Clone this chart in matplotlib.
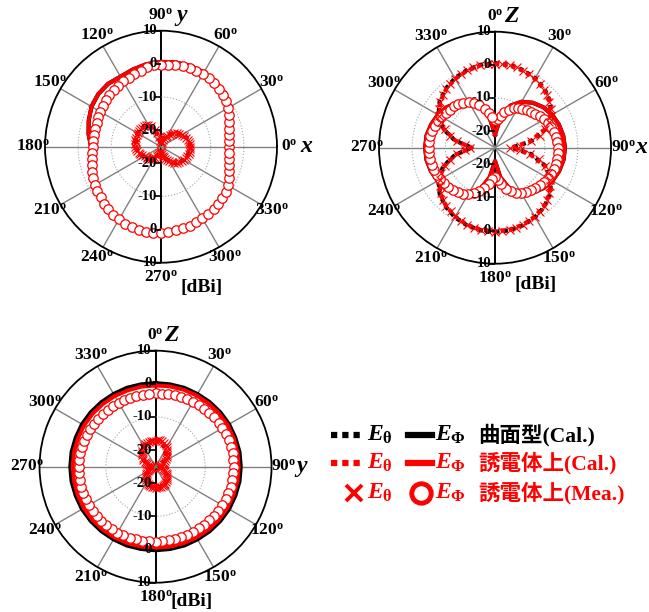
import numpy as np
import matplotlib.pyplot as plt
from matplotlib.markers import TICKLEFT

plt.rcParams["font.family"] = ["Liberation Serif", "Noto Sans CJK JP"]
plt.rcParams["font.weight"] = "bold"
plt.rcParams["mathtext.fontset"] = "custom"
plt.rcParams["mathtext.rm"] = "Liberation Serif:bold"
plt.rcParams["mathtext.it"] = "Liberation Serif:italic:bold"
plt.rcParams["mathtext.bf"] = "Liberation Serif:bold"

RED = "#ff0000"
R_MIN, R_MAX = -25, 10
R_LAB = 13.7

# sample angles [deg]: measurement every 5 deg, calculation every 10 deg
ang_mea = np.arange(0, 360, 5)
ang_cal = np.arange(0, 360, 10)

# ---------------- xy-plane (angle from x axis) [dBi] ----------------
xy_phi_mea = [-4.6, -4.5, -4.3, -3.9, -3.3, -2.5, -1.8, -1.2, -0.7, -0.3, 0.0, 0.2,
              0.3, 0.3, 0.3, 0.2, 0.0, -0.1, -0.2, -0.3, -0.7, -1.2, -1.6, -2.0,
              -2.2, -2.5, -2.8, -3.0, -3.3, -3.6, -3.8, -4.1, -4.3, -4.4, -4.5, -4.5,
              -4.4, -4.2, -3.9, -3.3, -2.8, -2.4, -1.9, -1.5, -1.2, -0.7, -0.3, 0.0,
              0.3, 0.6, 0.9, 1.1, 1.1, 1.0, 0.9, 0.8, 0.6, 0.5, 0.3, 0.2,
              0.0, -0.1, -0.3, -0.6, -0.9, -1.2, -1.8, -2.5, -3.3, -3.9, -4.3, -4.5]
xy_theta_mea = [-16.2, -16.2, -16.4, -16.6, -16.9, -17.3, -17.8, -18.2, -18.7, -19.3, -19.9, -20.5,
                -21.1, -21.7, -22.3, -22.9, -23.5, -23.8, -23.8, -23.2, -22.0, -20.8, -19.6, -18.1,
                -17.3, -17.0, -16.9, -17.0, -16.9, -16.9, -16.9, -16.9, -17.0, -17.0, -17.2, -17.2,
                -17.3, -17.5, -17.8, -18.1, -18.4, -18.8, -19.3, -19.7, -19.6, -19.9, -20.3, -20.8,
                -21.2, -21.8, -22.3, -22.7, -23.2, -23.5, -23.5, -22.9, -22.3, -21.7, -21.1, -20.5,
                -19.9, -19.3, -18.7, -18.2, -17.8, -17.3, -17.0, -16.7, -16.6, -16.4, -16.2, -16.2]
xy_phi_cal = [-3.8, -3.5, -2.5, -1.0, 0.1, 0.7, 0.9, 0.9, 0.8, 0.6, 0.3, -0.2,
              -0.6, -0.2, -0.3, -0.8, -1.8, -2.8, -3.9, -3.6, -2.6, -1.7, -1.0, -0.2,
              0.4, 0.9, 1.1, 0.9, 0.7, 0.4, 0.1, -0.2, -0.7, -1.4, -2.8, -3.6]
xy_theta_cal = [-16.0, -16.3, -16.8, -17.7, -18.6, -19.8, -21.0, -22.2, -23.4, -24.0, -22.2, -19.8,
                -17.6, -17.0, -16.8, -16.8, -16.9, -17.1, -17.3, -17.7, -18.3, -19.0, -19.6, -20.3,
                -21.2, -22.3, -23.2, -23.6, -22.2, -21.0, -19.8, -18.6, -17.7, -16.9, -16.5, -16.2]
xy_phi_curved = [-3.8, -3.5, -2.5, -1.0, 0.1, 0.7, 0.9, 0.9, 0.8, 0.6, 0.3, -0.2,
                 -0.6, -0.2, -0.3, -0.8, -1.8, -2.8, -3.9, -3.6, -2.6, -1.7, -1.0, -0.2,
                 0.4, 0.9, 1.1, 0.9, 0.7, 0.4, 0.1, -0.2, -0.7, -1.4, -2.8, -3.6]
xy_theta_curved = [-16.1, -16.4, -16.9, -17.8, -18.7, -19.9, -21.1, -22.3, -23.5, -24.0, -22.3, -19.9,
                   -17.7, -17.1, -16.9, -16.9, -17.0, -17.2, -17.4, -17.8, -18.4, -19.1, -19.7, -20.4,
                   -21.3, -22.4, -23.3, -23.7, -22.3, -21.1, -19.9, -18.7, -17.8, -17.0, -16.6, -16.3]

# ---------------- xz-plane (angle from z axis) [dBi] ----------------
xz_phi_mea = [-16.5, -16.2, -15.3, -14.0, -12.8, -11.8, -11.0, -10.6, -10.2, -9.7, -9.1, -8.5,
              -7.9, -7.4, -7.0, -6.6, -6.3, -6.1, -6.0, -5.9, -5.9, -6.0, -6.2, -6.4,
              -6.7, -7.0, -7.4, -7.8, -8.2, -8.6, -9.2, -10.0, -11.0, -12.2, -13.8, -15.3,
              -16.2, -15.5, -14.0, -12.4, -11.0, -9.8, -8.8, -8.1, -7.5, -7.0, -6.6, -6.2,
              -5.9, -5.6, -5.4, -5.2, -5.1, -5.0, -5.0, -5.0, -5.1, -5.3, -5.6, -5.9,
              -6.3, -6.8, -7.3, -7.4, -7.8, -8.4, -9.1, -10.0, -11.2, -13.0, -14.5, -15.8]
xz_theta_mea = [0.4, 0.5, 0.3, 0.1, -0.3, -0.6, -1.1, -1.5, -2.1, -2.7, -3.6, -4.5,
                -5.6, -7.0, -8.8, -11.0, -14.0, -17.5, -20.5, -17.5, -14.2, -11.3, -9.0, -7.2,
                -5.8, -4.6, -3.6, -2.8, -2.1, -1.5, -1.0, -0.6, -0.3, 0.0, 0.2, 0.3,
                0.3, 0.3, 0.2, 0.0, -0.3, -0.7, -1.1, -1.6, -2.2, -2.9, -3.7, -4.6,
                -5.7, -7.1, -8.8, -11.0, -13.5, -16.0, -17.5, -16.0, -13.5, -11.0, -8.8, -7.0,
                -5.6, -4.5, -3.5, -2.7, -2.0, -1.4, -0.9, -0.5, -0.2, 0.1, 0.3, 0.4]
xz_phi_cal = [-21.0, -16.0, -11.5, -9.0, -7.3, -6.0, -5.1, -4.5, -4.1, -3.9, -4.0, -4.4,
              -5.0, -6.0, -7.3, -9.0, -11.5, -16.0, -21.0, -16.0, -11.5, -9.0, -7.2, -5.9,
              -5.0, -4.4, -4.0, -3.9, -4.0, -4.5, -5.1, -6.0, -7.3, -9.0, -11.5, -16.0]
xz_theta_cal = [0.3, 0.2, -0.3, -1.0, -2.0, -3.5, -5.7, -9.0, -14.5, -20.0, -14.5, -9.0,
                -5.7, -3.5, -2.0, -1.0, -0.3, 0.1, 0.2, 0.1, -0.3, -1.0, -2.0, -3.4,
                -5.5, -8.5, -13.0, -18.0, -13.0, -8.5, -5.5, -3.4, -2.0, -1.0, -0.3, 0.2]
xz_phi_curved = [-21.0, -16.0, -11.5, -9.0, -7.3, -6.0, -5.1, -4.5, -4.1, -3.9, -4.0, -4.4,
                 -5.0, -6.0, -7.3, -9.0, -11.5, -16.0, -21.0, -16.0, -11.5, -9.0, -7.2, -5.9,
                 -5.0, -4.4, -4.0, -3.9, -4.0, -4.5, -5.1, -6.0, -7.3, -9.0, -11.5, -16.0]
xz_theta_curved = [0.5, 0.4, -0.1, -0.8, -1.8, -3.3, -5.5, -8.8, -14.0, -20.0, -14.0, -8.8,
                   -5.5, -3.3, -1.8, -0.8, -0.1, 0.3, 0.4, 0.3, -0.1, -0.8, -1.8, -3.2,
                   -5.3, -8.3, -12.8, -18.0, -12.8, -8.3, -5.3, -3.2, -1.8, -0.8, -0.1, 0.4]

# ---------------- yz-plane (angle from z axis) [dBi] ----------------
yz_phi_mea = [-2.9, -2.9, -2.8, -2.7, -2.6, -2.5, -2.4, -2.2, -2.1, -2.0, -1.9, -1.8,
              -1.7, -1.6, -1.5, -1.5, -1.4, -1.4, -1.4, -1.4, -1.5, -1.5, -1.6, -1.7,
              -1.8, -1.9, -2.0, -2.1, -2.2, -2.3, -2.3, -2.4, -2.4, -2.4, -2.4, -2.4,
              -2.4, -2.4, -2.3, -2.3, -2.2, -2.1, -2.0, -2.0, -1.9, -1.9, -1.8, -1.8,
              -1.8, -1.8, -1.8, -1.8, -1.9, -1.9, -1.9, -1.9, -2.0, -2.0, -2.1, -2.1,
              -2.2, -2.3, -2.4, -2.5, -2.5, -2.6, -2.7, -2.7, -2.8, -2.8, -2.9, -2.9]
yz_theta_mea = [-17.2, -17.0, -16.9, -17.0, -17.3, -17.8, -18.2, -18.8, -19.4, -20.0, -20.6, -21.2,
                -21.8, -22.3, -22.7, -23.2, -23.5, -23.6, -23.6, -23.5, -23.2, -22.7, -22.3, -21.8,
                -21.4, -20.9, -20.5, -20.0, -19.7, -19.4, -19.1, -19.0, -18.8, -18.7, -18.7, -18.7,
                -18.7, -18.7, -18.8, -19.0, -19.1, -19.4, -19.7, -20.0, -20.5, -20.9, -21.4, -21.8,
                -22.3, -22.7, -23.2, -23.5, -23.6, -23.6, -23.5, -23.2, -22.9, -22.4, -22.0, -21.4,
                -20.8, -20.2, -19.6, -19.1, -18.7, -18.2, -17.9, -17.6, -17.5, -17.3, -17.2, -17.2]
yz_phi_cal = [-0.5, -0.4, -0.3, -0.2, -0.1, 0.0, 0.1, 0.1, 0.1, 0.1, 0.1, 0.0,
              0.0, -0.1, -0.2, -0.3, -0.4, -0.5, -0.5, -0.5, -0.4, -0.3, -0.2, -0.1,
              0.0, 0.0, 0.0, 0.0, 0.0, -0.1, -0.1, -0.2, -0.3, -0.4, -0.5, -0.5]
yz_theta_cal = [-17.0, -17.1, -17.9, -19.0, -20.1, -21.1, -22.1, -22.9, -23.5, -23.7, -23.3, -22.5,
                -21.5, -20.5, -19.6, -19.0, -18.7, -18.6, -18.6, -18.7, -19.0, -19.6, -20.5, -21.5,
                -22.5, -23.3, -23.7, -23.5, -22.9, -21.9, -20.8, -19.7, -18.6, -17.8, -17.3, -17.1]
yz_phi_curved = [0.2, 0.2, 0.3, 0.3, 0.4, 0.5, 0.6, 0.6, 0.7, 0.7, 0.7, 0.6,
                 0.6, 0.5, 0.4, 0.3, 0.3, 0.2, 0.2, 0.2, 0.3, 0.3, 0.4, 0.5,
                 0.6, 0.6, 0.7, 0.7, 0.7, 0.6, 0.6, 0.5, 0.4, 0.3, 0.3, 0.2]
yz_theta_curved = [-17.1, -17.2, -18.0, -19.1, -20.2, -21.2, -22.2, -23.0, -23.6, -23.8, -23.4, -22.6,
                   -21.6, -20.6, -19.7, -19.1, -18.8, -18.7, -18.7, -18.8, -19.1, -19.7, -20.6, -21.6,
                   -22.6, -23.4, -23.8, -23.6, -23.0, -22.0, -20.9, -19.8, -18.7, -17.9, -17.4, -17.2]


def closed(ang, vals):
    # append the first sample so the pattern closes on itself
    return np.radians(np.append(ang, ang[0] + 360)), np.append(vals, vals[0])


def polar_panel(fig, rect, zero, direction, up, names, dbi_xy, data):
    ax = fig.add_axes(rect, projection="polar")
    ax.set_theta_zero_location(zero)
    ax.set_theta_direction(direction)
    ax.set_rlim(R_MIN, R_MAX)
    ax.set_xticks([])
    ax.set_yticks([])
    ax.grid(False)
    ax.spines["polar"].set_linewidth(1.3)

    # spokes every 30 deg, the vertical one in black
    for a in range(0, 360, 30):
        if a % 180 == up % 180:
            ax.plot(np.radians([a, a]), [R_MIN, R_MAX], color="black", lw=1.4, zorder=1)
        else:
            ax.plot(np.radians([a, a]), [R_MIN, R_MAX], color="0.5", lw=1.0, zorder=1)
    t = np.linspace(0, 2 * np.pi, 361)
    for r in (-10, 0):
        ax.plot(t, np.full_like(t, r), color="0.65", lw=0.8, ls=":", zorder=1)

    # radial tick labels along the vertical axis
    for a in (up, up + 180):
        for v in (10, 0, -10, -20):
            ax.plot(np.radians(a), v, marker=TICKLEFT, ms=4, mew=1.2, color="black",
                    clip_on=False, zorder=6)
            ax.annotate(str(v), (np.radians(a), v), xytext=(-4, 0),
                        textcoords="offset pixels", ha="right", va="center",
                        fontsize=10.5, zorder=6, annotation_clip=False)

    # angle labels; the ones on the vertical axis sit a little further out
    for a in range(0, 360, 30):
        r_lab = R_LAB + 0.9 if a % 180 == up % 180 else R_LAB
        ax.text(np.radians(a), r_lab, f"{a}" + r"$^{\mathrm{o}}$", ha="center",
                va="center", fontsize=12.5, clip_on=False)
    for a, name, off in names:
        r_lab = R_LAB + 0.9 if a % 180 == up % 180 else R_LAB
        ax.annotate(name, (np.radians(a), r_lab), xytext=(off, 0),
                    textcoords="offset pixels", ha="left", va="center",
                    fontsize=17, style="italic", annotation_clip=False)
    ax.text(dbi_xy[0], dbi_xy[1], "[dBi]", transform=ax.transAxes, ha="center",
            va="center", fontsize=14)

    th_cv, ph_cv, th_cal, ph_cal, th_mea, ph_mea = data
    dotted = (0, (1, 1))
    ax.plot(*closed(ang_cal, th_cv), color="black", lw=3, ls=dotted, zorder=2)
    ax.plot(*closed(ang_cal, ph_cv), color="black", lw=3, zorder=2)
    ax.plot(*closed(ang_cal, th_cal), color=RED, lw=3, ls=dotted, zorder=3)
    ax.plot(*closed(ang_cal, ph_cal), color=RED, lw=2.8, zorder=3)
    ax.plot(np.radians(ang_mea), ph_mea, ls="none", marker="o", ms=6.8, mfc="white",
            mec=RED, mew=0.9, zorder=4)
    ax.plot(np.radians(ang_mea), th_mea, ls="none", marker="x", ms=5.5, mec=RED,
            mew=0.8, zorder=5)
    return ax


fig = plt.figure(figsize=(6.49, 6.12), dpi=100)

polar_panel(fig, [0.0693, 0.5707, 0.3575, 0.3791], "E", 1, 90,
            [(90, "y", 15), (0, "x", 11)], (0.675, -0.105),
            (xy_theta_curved, xy_phi_curved, xy_theta_cal, xy_phi_cal,
             xy_theta_mea, xy_phi_mea))
polar_panel(fig, [0.5840, 0.5691, 0.3575, 0.3791], "N", -1, 0,
            [(0, "Z", 9), (90, "x", 12)], (0.675, -0.09),
            (xz_theta_curved, xz_phi_curved, xz_theta_cal, xz_phi_cal,
             xz_theta_mea, xz_phi_mea))
polar_panel(fig, [0.0609, 0.0479, 0.3575, 0.3791], "N", -1, 0,
            [(0, "Z", 9), (90, "y", 13)], (0.655, -0.08),
            (yz_theta_curved, yz_phi_curved, yz_theta_cal, yz_phi_cal,
             yz_theta_mea, yz_phi_mea))

# legend, laid out in figure pixels
lax = fig.add_axes([0, 0, 1, 1])
lax.set_xlim(0, 649)
lax.set_ylim(612, 0)
lax.axis("off")
rows = [435, 463, 493]
labels = ["曲面型(Cal.)", "誘電体上(Cal.)", "誘電体上(Mea.)"]
colors = ["black", RED, RED]
for y, lab, c in zip(rows[:2], labels[:2], colors[:2]):
    lax.plot([331, 363], [y, y], color=c, lw=4.5, ls=(0, (1, 0.8)))
    lax.plot([408, 432], [y, y], color=c, lw=4.5)
y = rows[2]
lax.plot([354], [y], marker="x", ms=11, mew=2.8, color=RED)
lax.plot([421], [y], marker="o", ms=14, mew=3.5, mfc="white", mec=RED)
for y, lab, c in zip(rows, labels, colors):
    lax.text(367, y, r"$E_{\mathrm{\theta}}$", color=c, ha="left", va="center", fontsize=17)
    lax.text(435, y, r"$E_{\mathrm{\Phi}}$", color=c, ha="left", va="center", fontsize=17)
    lax.text(478, y, lab, color=c, ha="left", va="center", fontsize=15.5)

fig.savefig("out.png", dpi=100)
